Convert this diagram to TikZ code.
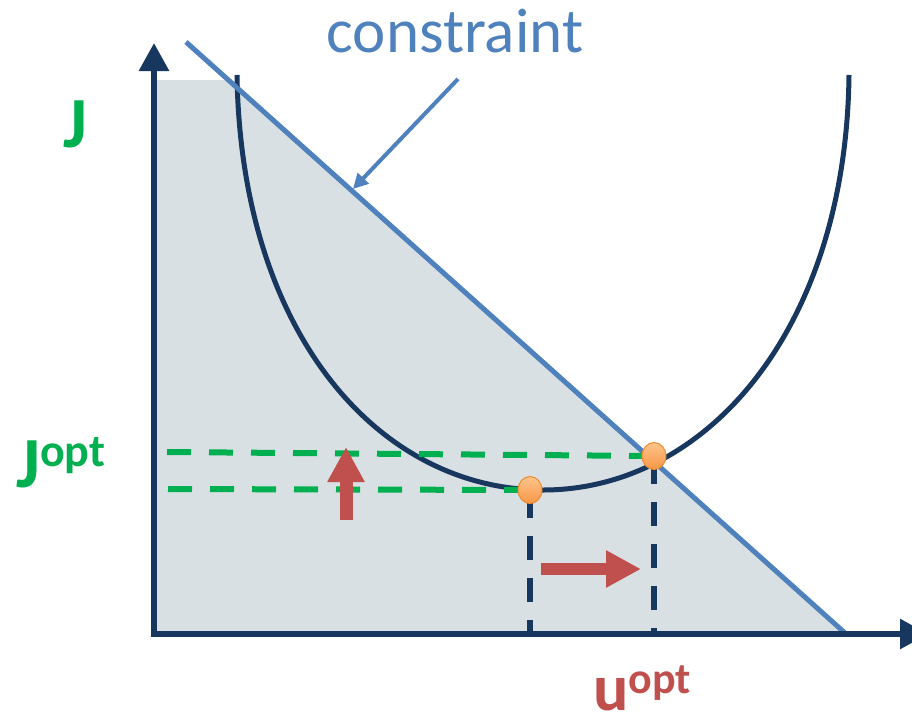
\documentclass[tikz,border=0pt]{standalone}
\usepackage{fontspec}
\setmainfont{Carlito}
\usetikzlibrary{arrows.meta,shapes.geometric}
\definecolor{navy}{HTML}{17375E}
\definecolor{cblue}{HTML}{4F81BD}
\definecolor{cgreen}{HTML}{00B050}
\definecolor{cred}{HTML}{C0504D}
\definecolor{shadebg}{HTML}{D9E0E4}
\definecolor{dotorange}{HTML}{F79646}
\definecolor{dotlight}{HTML}{FFC48C}
\definecolor{dotedge}{HTML}{F08A2C}
\begin{document}
\begin{tikzpicture}[x=1pt,y=-1pt,
  axisline/.style={navy, line width=6pt, -{Triangle[length=28pt,width=29pt]}},
  constraintline/.style={cblue, line width=5pt},
  costcurve/.style={navy, line width=5pt},
  greendash/.style={cgreen, line width=6pt, dash pattern=on 24pt off 18pt},
  navydash/.style={navy, line width=5.5pt, dash pattern=on 24pt off 18pt},
  redarrow/.style={cred, line width=13pt, -{Triangle[length=35pt,width=35pt]}},
  pointer/.style={cblue, line width=4pt, -{Triangle[length=15pt,width=15pt]}},
  optdot/.style={ellipse, minimum width=24pt, minimum height=27pt, inner sep=0pt,
    draw=dotedge, line width=1pt, top color=dotlight, bottom color=dotorange},
  lbl/.style={inner sep=0pt}
]
\useasboundingbox (0,0) rectangle (912,718);
\clip (0,0) rectangle (912,718);

% coordinates
\coordinate (O) at (154,634);
\coordinate (Ytip) at (154,43);
\coordinate (Xtip) at (928,634);
\coordinate (C1) at (186,42);
\coordinate (C2) at (845,633);
\coordinate (Ctop) at (228,80);
\coordinate (Fl) at (154,80);

% feasible region
\fill[shadebg] (Fl) -- (Ctop) -- (C2) -- (O) -- cycle;

% cost curve
\draw[costcurve] (237,75) .. controls (241,335) and (380,490) .. (543,490)
  .. controls (706,490) and (846,330) .. (849,75);

% constraint line
\draw[constraintline] (C1) -- (C2);

% dashed guides
\coordinate (g1) at (167,452);
\coordinate (g2) at (168,489);
\coordinate (b1) at (530,634);
\coordinate (b2) at (654,634);
\coordinate (p1) at (530,490);
\coordinate (p2) at (654,456);
\draw[greendash] (g1) -- (p2);
\draw[greendash] (g2) -- (p1);
\draw[navydash, dash phase=10pt] (b1) -- (p1);
\draw[navydash, dash phase=18pt] (b2) -- (p2);

% optimum points
\node[optdot] (d1) at (p1) {};
\node[optdot] (d2) at (p2) {};

% axes
\draw[axisline] (O) -- (Ytip);
\draw[axisline] ([xshift=-3pt]O) -- (Xtip);

% red arrows
\coordinate (ua) at (346,520);
\coordinate (ub) at (346,447);
\coordinate (ra) at (541,569);
\coordinate (rb) at (641,569);
\draw[redarrow] (ua) -- (ub);
\draw[redarrow, line width=12pt] (ra) -- (rb);

% constraint label and pointer
\node[lbl, font=\fontsize{63}{63}\selectfont, text=cblue, anchor=base] (ctext) at (455,52) {constraint};
\coordinate (pa) at (458,79);
\coordinate (pb) at (353,189);
\draw[pointer] (pa) -- (pb);

% axis labels
\node[lbl, font=\bfseries\fontsize{72}{72}\selectfont, text=cgreen, anchor=base west] (jlab) at (63,147) {J};
\node[lbl, text=cgreen, font=\bfseries, anchor=base west] (jopt) at (16,487)
  {\fontsize{72}{72}\selectfont J\fontsize{46}{46}\selectfont\raisebox{21pt}{opt}};
\node[lbl, text=cred, font=\bfseries, anchor=base west] (uopt) at (593,710)
  {\fontsize{66}{66}\selectfont u\fontsize{44}{44}\selectfont\raisebox{17pt}{opt}};
\end{tikzpicture}
\end{document}
